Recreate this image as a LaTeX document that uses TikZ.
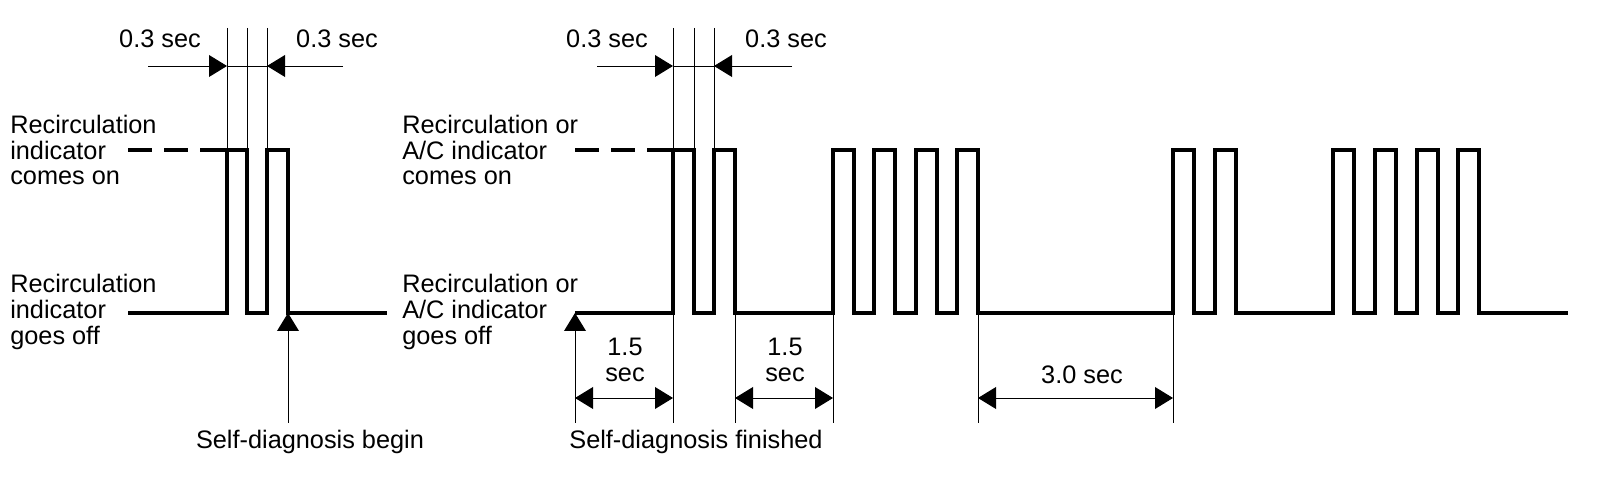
\documentclass[tikz,border=0pt]{standalone}
\usepackage{fontspec}
\setmainfont{Liberation Sans}
\usetikzlibrary{arrows.meta, positioning}

\begin{document}
\begin{tikzpicture}[
  x=0.025cm, y=-0.025cm,
  every node/.style={font=\fontsize{18}{18.4}\selectfont, inner sep=0pt},
  wave/.style={line width=2.6pt, line join=miter},
  onlevel/.style={line width=2.6pt, dash pattern=on 0.6cm off 0.3cm},
  thin/.style={line width=0.7pt},
  ptr/.style={thin, -{Triangle[length=12.8pt, width=15.5pt]}},
  dim/.style={thin, {Triangle[length=12.8pt, width=15.5pt]}-{Triangle[length=12.8pt, width=15.5pt]}},
  txt/.style={align=left, anchor=west},
]
\useasboundingbox (0,0) rectangle (1600,484);

% Level labels (left block)
\node[txt] (onL) at (10,150) {Recirculation\\indicator\\comes on};
\node[txt] (offL) at (10,312) {Recirculation\\indicator\\goes off};

% Level labels (right block)
\node[txt] (onR) at (402,150) {Recirculation or\\A/C indicator\\comes on};
\node[txt] (offR) at (402,312) {Recirculation or\\A/C indicator\\goes off};

% Left waveform
\draw[onlevel] (128,150) -- (200,150);
\draw[wave] (200,150) -- (227,150);
\draw[wave] (128,313) -- (227,313) -- (227,150) -- (247,150) -- (247,313)
  -- (267,313) -- (267,150) -- (288,150) -- (288,313) -- (387,313);

% Right waveform
\draw[onlevel] (575,150) -- (647,150);
\draw[wave] (647,150) -- (673,150);
\draw[wave] (575,313)
  foreach \x in {673,714,833,874,916,957,1173,1215,1333,1375,1417,1458}
  { -- (\x,313) -- (\x,150) -- (\x+21,150) -- (\x+21,313) } -- (1568,313);

% Extension lines
\foreach \x in {227,247,267,673,694,714} \draw[thin] (\x,28) -- (\x,150);
\foreach \x in {673,735,833,978,1173} \draw[thin] (\x,313) -- (\x,423);

% 0.3 sec marks
\coordinate (a1) at (148,66);
\coordinate (a2) at (227,66);
\coordinate (a3) at (267,66);
\coordinate (a4) at (343,66);
\coordinate (c1) at (597,66);
\coordinate (c2) at (673,66);
\coordinate (c3) at (714,66);
\coordinate (c4) at (792,66);
\draw[thin] (a2) -- (a3);
\draw[ptr] (a1) -- (a2);
\draw[ptr] (a4) -- (a3);
\draw[thin] (c2) -- (c3);
\draw[ptr] (c1) -- (c2);
\draw[ptr] (c4) -- (c3);
\node (t1) at (160,39) {0.3 sec};
\node (t2) at (337,39) {0.3 sec};
\node (t3) at (607,39) {0.3 sec};
\node (t4) at (786,39) {0.3 sec};

% Start / finish pointers
\coordinate (bfoot) at (288,423);
\coordinate (btip) at (288,313);
\coordinate (ffoot) at (575,423);
\coordinate (ftip) at (575,313);
\draw[ptr] (bfoot) -- (btip);
\draw[ptr] (ffoot) -- (ftip);
\node (begin) at (310,442) {Self-diagnosis begin};
\node (finish) at (696,442) {Self-diagnosis finished};

% Interval marks
\coordinate (p1) at (575,398);
\coordinate (p2) at (673,398);
\coordinate (q1) at (735,398);
\coordinate (q2) at (833,398);
\coordinate (r1) at (978,398);
\coordinate (r2) at (1173,398);
\draw[dim] (p1) -- (p2);
\draw[dim] (q1) -- (q2);
\draw[dim] (r1) -- (r2);
\node[align=center] (s1) at (625,360) {1.5\\sec};
\node[align=center] (s2) at (785,360) {1.5\\sec};
\node (s3) at (1082,375) {3.0 sec};

\end{tikzpicture}
\end{document}
